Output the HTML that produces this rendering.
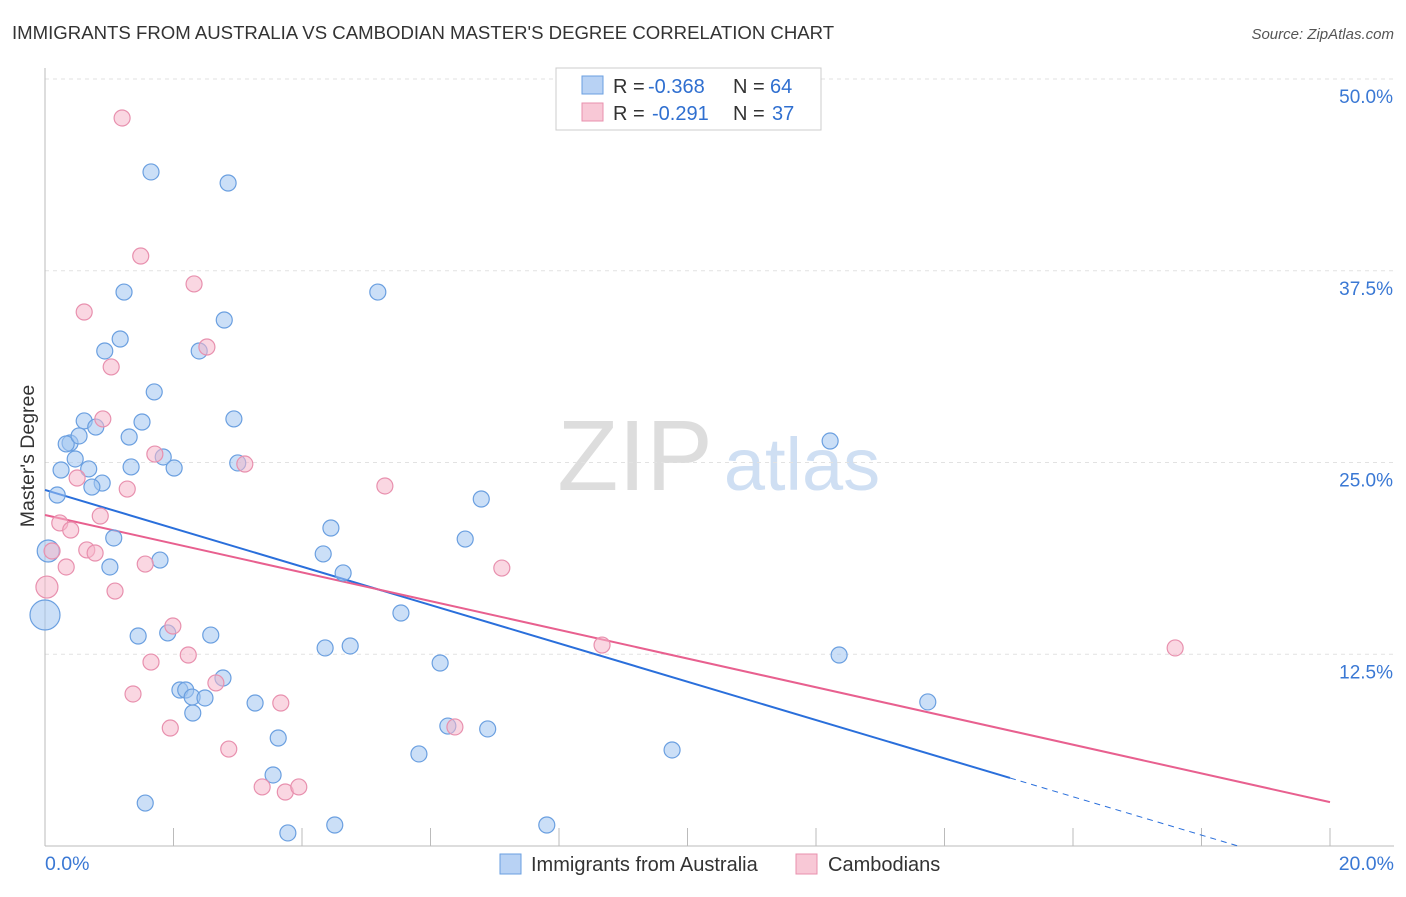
<!DOCTYPE html>
<html><head><meta charset="utf-8"><style>
body{margin:0;background:#fff;font-family:"Liberation Sans",sans-serif;}
svg text{font-family:"Liberation Sans",sans-serif;}
</style></head><body>
<svg id="chart" width="1406" height="892">
<text x="12" y="39" font-size="18.6" fill="#333">IMMIGRANTS FROM AUSTRALIA VS CAMBODIAN MASTER'S DEGREE CORRELATION CHART</text>
<text x="1394" y="39" font-size="15" fill="#555" font-style="italic" text-anchor="end">Source: ZipAtlas.com</text>
<text transform="translate(34,456) rotate(-90)" font-size="19.5" fill="#333" text-anchor="middle">Master's Degree</text>
<g>
<text x="635" y="490" font-size="100" fill="#ddd" font-family="Liberation Serif" text-anchor="middle">ZIP</text>
<text x="802" y="490" font-size="74" fill="#cfdff3" text-anchor="middle">atlas</text>
</g>
<g id="grid"></g><g id="axes"></g><g id="lines"></g><g id="pts"></g>
<g>
<rect x="556" y="68" width="265" height="62" fill="#fff" stroke="#ccc"/>
<rect x="582" y="76" width="21" height="18" fill="#b8d2f4" stroke="#6a9fe0"/>
<text x="613" y="93" font-size="20" fill="#333">R =</text>
<text x="648" y="93" font-size="20" fill="#2f6fd0">-0.368</text>
<text x="733" y="93" font-size="20" fill="#333">N =</text>
<text x="770" y="93" font-size="20" fill="#2f6fd0">64</text>
<rect x="582" y="103" width="21" height="18" fill="#f8c8d6" stroke="#e890ae"/>
<text x="613" y="120" font-size="20" fill="#333">R =</text>
<text x="652" y="120" font-size="20" fill="#2f6fd0">-0.291</text>
<text x="733" y="120" font-size="20" fill="#333">N =</text>
<text x="772" y="120" font-size="20" fill="#2f6fd0">37</text>
</g>
<g>
<rect x="500" y="854" width="21" height="20" fill="#b8d2f4" stroke="#6a9fe0"/>
<text x="531" y="871" font-size="20" fill="#333">Immigrants from Australia</text>
<rect x="796" y="854" width="21" height="20" fill="#f8c8d6" stroke="#e890ae"/>
<text x="828" y="871" font-size="20" fill="#333">Cambodians</text>
</g>
</svg>
<script>
const blueX=[1.65,2.85,1.23,5.18,2.79,1.17,0.93,2.40,1.70,0.61,1.51,2.94,0.79,0.39,0.33,0.53,1.31,1.84,0.47,0.25,0.68,1.34,2.01,3.00,0.89,0.73,0.19,12.22,6.79,1.07,4.45,6.54,1.79,4.33,0.05,1.01,4.64,5.54,0.0,1.45,1.91,2.58,4.36,4.75,6.15,12.36,2.77,2.10,2.19,2.29,2.49,3.27,2.30,13.74,6.27,6.89,3.63,9.76,5.82,3.55,1.56,4.51,7.81,3.78];
const blueY=[43.94,43.22,36.11,36.11,34.29,33.05,32.27,32.27,29.60,27.71,27.64,27.84,27.31,26.27,26.21,26.73,26.66,25.36,25.23,24.51,24.58,24.71,24.64,24.97,23.66,23.40,22.88,26.40,22.62,20.08,20.73,20.01,18.64,19.04,19.23,18.19,17.80,15.19,15.06,13.69,13.89,13.75,12.91,13.04,11.93,12.45,10.95,10.17,10.17,9.71,9.65,9.32,8.67,9.39,7.82,7.63,7.04,6.26,6.00,4.63,2.80,1.37,1.37,0.85];
const blueBig=[34,38];
const pinkX=[1.20,1.49,2.32,0.61,2.52,1.03,0.90,1.71,3.11,0.50,1.28,5.29,0.86,0.23,0.40,0.65,0.78,0.11,0.33,1.56,7.11,0.03,1.09,1.99,1.65,2.23,8.67,17.59,2.66,1.37,3.67,1.95,6.38,2.86,3.38,3.74,3.95];
const pinkY=[47.46,38.46,36.64,34.81,32.53,31.23,27.84,25.55,24.90,23.99,23.27,23.47,21.51,21.06,20.60,19.30,19.10,19.23,18.19,18.38,18.12,16.88,16.62,14.34,11.99,12.45,13.10,12.91,10.63,9.91,9.32,7.69,7.76,6.32,3.85,3.52,3.85];
const pinkBig=[21];
const blueTrend=[23.21,-1.25];
const pinkTrend=[21.58,-0.936];
const yTicks=[12.5,25.0,37.5,50.0];
const xTickVals=[0,2,4,6,8,10,12,14,16,18,20];
const NS='http://www.w3.org/2000/svg';
const sx=v=>45+v*1285/20, sy=v=>846-v*767/50;
function mk(p,t,a){const e=document.createElementNS(NS,t);for(const k in a)e.setAttribute(k,a[k]);p.appendChild(e);return e;}
const grid=document.getElementById('grid'),axes=document.getElementById('axes'),lines=document.getElementById('lines'),pts=document.getElementById('pts');
yTicks.forEach(v=>{
 const l=mk(grid,'line',{x1:45,x2:1394,y1:sy(v),y2:sy(v),stroke:'#e2e2e2','stroke-dasharray':'4,4'});
 
 
 const t=mk(axes,'text',{x:1393,y:sy(v)+24,'font-size':19,fill:'#3a78d4','text-anchor':'end'});
 t.textContent=v.toFixed(1)+'%';
 
 
});
mk(axes,'line',{x1:45,x2:45,y1:68,y2:846,stroke:'#bbb'});
mk(axes,'line',{x1:45,x2:1394,y1:846,y2:846,stroke:'#bbb'});
xTickVals.forEach(v=>{
 const l=mk(axes,'line',{x1:sx(v),x2:sx(v),y1:828,y2:846,stroke:'#bbb'});
 
 
});
[[0,'0.0%','start',45],[20,'20.0%','end',1394]].forEach(d=>{
 const t=mk(axes,'text',{x:d[3],y:870,'font-size':19.5,fill:'#3a78d4','text-anchor':d[2]});
 t.textContent=d[1];
 
 
});
function dot(x,y,big,fill,stroke,name,r){
 const c=mk(pts,'circle',{cx:sx(x),cy:sy(y),r:big?r:8,fill:fill,stroke:stroke,'stroke-width':1.2});
 
 
}
blueX.forEach((x,i)=>dot(x,blueY[i],blueBig.includes(i),'rgba(160,196,240,0.55)','#6a9fe0','australia-point',i===38?15:11));
pinkX.forEach((x,i)=>dot(x,pinkY[i],pinkBig.includes(i),'rgba(246,182,202,0.55)','#e890ae','cambodian-point',11));
const bEnd=15.02, bZero=-blueTrend[0]/blueTrend[1];
let l1=mk(lines,'line',{x1:sx(0),y1:sy(blueTrend[0]),x2:sx(bEnd),y2:sy(blueTrend[0]+blueTrend[1]*bEnd),stroke:'#2a6fdb','stroke-width':2});


let l2=mk(lines,'line',{x1:sx(bEnd),y1:sy(blueTrend[0]+blueTrend[1]*bEnd),x2:sx(bZero),y2:sy(0),stroke:'#2a6fdb','stroke-width':1,'stroke-dasharray':'6,5'});


let l3=mk(lines,'line',{x1:sx(0),y1:sy(pinkTrend[0]),x2:sx(20),y2:sy(pinkTrend[0]+pinkTrend[1]*20),stroke:'#e8608f','stroke-width':2});


</script>
</body></html>
